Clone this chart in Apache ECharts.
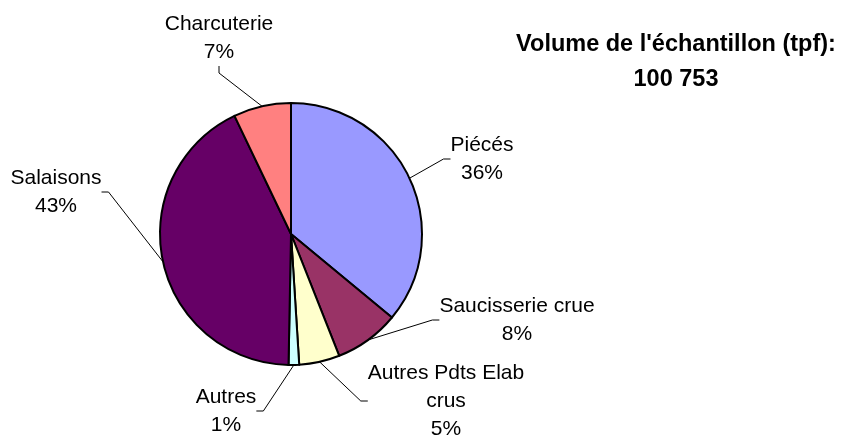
<!DOCTYPE html>
<html>
<head>
<meta charset="utf-8">
<script src="https://cdn.jsdelivr.net/npm/echarts@6/dist/echarts.min.js"></script>
<style>
  html, body { margin: 0; padding: 0; background: #fff; }
  #main { width: 848px; height: 437px; }
</style>
</head>
<body>
<div id="main"></div>
<script>
// parts of the sample, clockwise from 12 o'clock
var categories = ['Piécés', 'Saucisserie crue', 'Autres Pdts Elab\ncrus', 'Autres', 'Salaisons', 'Charcuterie'];
var shares = [36.0, 8.0, 5.0, 1.3, 42.6, 7.1];
var colors = ['#9999FF', '#993366', '#FFFFCC', '#CCFFFF', '#660066', '#FF8080'];
var sampleTitle = "Volume de l'échantillon (tpf):";
var sampleVolume = '100 753';

var myChart = echarts.init(document.getElementById('main'));

// where the label blocks sit (centre of each text block)
var labelSpots = [[482, 159], [517, 320], [446, 401], [226, 411], [56, 192], [219, 38]];

var data = [];
for (var i = 0; i < categories.length; i++) {
	data.push({
		name: categories[i],
		value: shares[i],
		itemStyle: { color: colors[i] }
	});
}

var option = {
	animation: false,
	title: {
		text: sampleTitle + '\n' + sampleVolume,
		left: 676,
		top: 27,
		textAlign: 'center',
		padding: 0,
		textStyle: {
			fontFamily: 'Liberation Sans, Arial, sans-serif',
			fontSize: 23.5,
			fontWeight: 'bold',
			lineHeight: 35,
			color: '#000'
		}
	},
	series: [{
		type: 'pie',
		center: [291, 234],
		radius: 131,
		startAngle: 90,
		clockwise: true,
		percentPrecision: 0,
		avoidLabelOverlap: false,
		silent: true,
		itemStyle: {
			borderColor: '#000',
			borderWidth: 2
		},
		label: {
			position: 'outside',
			formatter: '{b}\n{d}%',
			fontFamily: 'Liberation Sans, Arial, sans-serif',
			fontSize: 21,
			lineHeight: 28,
			color: '#000'
		},
		labelLine: {
			show: true,
			length: 10,
			length2: 7,
			lineStyle: { color: '#000', width: 1 }
		},
		labelLayout: function(params) {
			var p = labelSpots[params.dataIndex];
			return { x: p[0], y: p[1], align: 'center', verticalAlign: 'middle' };
		},
		emphasis: { disabled: true },
		data: data
	}]
};

myChart.setOption(option);
</script>
</body>
</html>
